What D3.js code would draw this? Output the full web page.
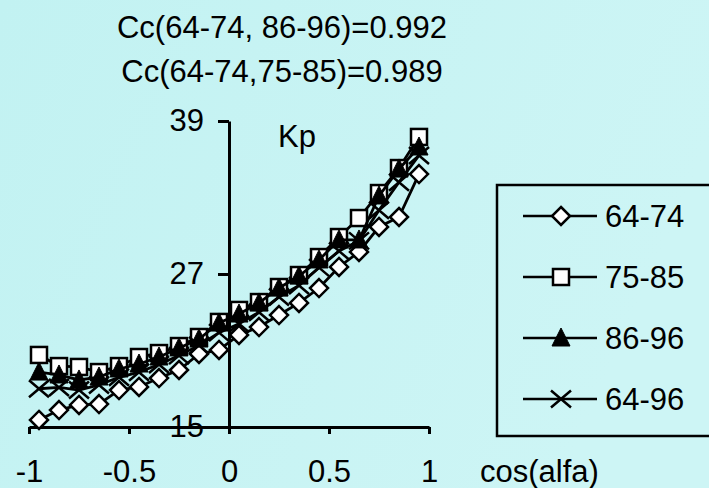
<!DOCTYPE html>
<html><head><meta charset="utf-8">
<script src="https://cdn.jsdelivr.net/npm/d3@7"></script>
<style>html,body{margin:0;padding:0;overflow:hidden;}svg{display:block;}</style>
</head><body>
<svg id="c" width="709" height="488"></svg>
<script>
const cosAlfa = [-0.95,-0.85,-0.75,-0.65,-0.55,-0.45,-0.35,-0.25,-0.15,-0.05,0.05,0.15,0.25,0.35,0.45,0.55,0.65,0.75,0.85,0.95];
const s6474 = [15.55,16.33,16.73,16.8,17.9,18.14,18.84,19.47,20.73,21.04,22.22,22.84,23.78,24.73,25.9,27.55,28.73,30.69,31.47,34.84];
const s7585 = [20.65,19.78,19.71,19.31,19.78,20.49,20.8,21.35,22.06,23.24,24.18,24.8,25.98,26.92,28.33,29.9,31.39,33.35,35.31,37.75];
const s8696 = [19.31,19.08,18.69,18.92,19.55,19.94,20.49,21.2,21.9,23.16,23.86,24.73,25.9,26.84,28.1,29.67,29.67,33.12,35.24,36.96];
const s6496 = [18.0,18.1,17.9,18.3,18.9,19.3,19.9,20.6,21.4,22.4,23.1,24.0,25.2,26.1,27.5,28.8,29.6,32.0,34.2,36.3];
const seriesNames = ["64-74","75-85","86-96","64-96"];
const xTicks = [-1,-0.5,0,0.5,1];
const yTicks = [15,27,39];
const titleLines = ["Cc(64-74, 86-96)=0.992","Cc(64-74,75-85)=0.989"];

const FONT = "'Liberation Sans', Arial, sans-serif";
const FS = 31;
const svg = d3.select("#c");
const defs = svg.append("defs");
const g = defs.append("linearGradient").attr("id","bg").attr("x1","0").attr("y1","0").attr("x2","1").attr("y2","0.3");
g.append("stop").attr("offset","0").attr("stop-color","#c2f2f2");
g.append("stop").attr("offset","1").attr("stop-color","#cdf5f5");
svg.append("rect").attr("width",709).attr("height",488).attr("fill","url(#bg)");

const x = d3.scaleLinear().domain([-1,1]).range([29,429]);
const y = d3.scaleLinear().domain([15,39]).range([427,121]);

// titles
svg.selectAll("text.title").data(titleLines).join("text").attr("class","title")
  .attr("x",282).attr("y",(d,i)=>38+i*44).attr("text-anchor","middle")
  .attr("font-family",FONT).attr("font-size",FS).attr("fill","#000").text(d=>d);

// axes
const xAxis = svg.append("g").attr("transform","translate(0,"+y(15)+")")
  .call(d3.axisBottom(x).tickValues(xTicks).tickSize(7).tickSizeOuter(0).tickFormat(d=>String(d)));
xAxis.select(".domain").attr("stroke","#000").attr("stroke-width",3);
xAxis.selectAll(".tick line").attr("stroke","#000").attr("stroke-width",3);
xAxis.selectAll(".tick text").attr("y",55).attr("dy",0).attr("font-family",FONT).attr("font-size",FS).attr("fill","#000");

const yAxis = svg.append("g").attr("transform","translate("+x(0)+",0)")
  .call(d3.axisLeft(y).tickValues(yTicks).tickSize(11).tickSizeOuter(0).tickPadding(14).tickFormat(d=>String(d)));
yAxis.select(".domain").attr("stroke","#000").attr("stroke-width",3);
yAxis.selectAll(".tick line").attr("stroke","#000").attr("stroke-width",3);
yAxis.selectAll(".tick text").attr("font-family",FONT).attr("font-size",FS).attr("fill","#000");

svg.append("text").attr("x",278).attr("y",147).attr("font-family",FONT).attr("font-size",FS).text("Kp");
svg.append("text").attr("x",480).attr("y",482).attr("font-family",FONT).attr("font-size",FS).text("cos(alfa)");

// markers
function drawMarker(sel, type){
  if(type==="diamond"){
    sel.append("path").attr("d","M0,-9L9,0L0,9L-9,0Z").attr("fill","#fff").attr("stroke","#000").attr("stroke-width",2.5);
  } else if(type==="square"){
    sel.append("rect").attr("x",-8).attr("y",-8).attr("width",16).attr("height",16).attr("fill","#fff").attr("stroke","#000").attr("stroke-width",2.5);
  } else if(type==="triangle"){
    sel.append("path").attr("d","M0,-10L9,8L-9,8Z").attr("fill","#000").attr("stroke","#000").attr("stroke-width",1);
  } else {
    sel.append("path").attr("d","M-10,-8.5L10,8.5M-10,8.5L10,-8.5").attr("fill","none").attr("stroke","#000").attr("stroke-width",2.5);
  }
}
const allSeries = [s6474,s7585,s8696,s6496];
const types = ["diamond","square","triangle","x"];
const line = d3.line().x(d=>x(d[0])).y(d=>y(d[1]));
allSeries.forEach((vals,si)=>{
  const pts = cosAlfa.map((c,i)=>[c,vals[i]]);
  svg.append("path").datum(pts).attr("d",line).attr("fill","none").attr("stroke","#000").attr("stroke-width",2.8);
  svg.append("g").selectAll("g").data(pts).join("g")
    .attr("transform",d=>"translate("+x(d[0])+","+y(d[1])+")")
    .each(function(){ drawMarker(d3.select(this), types[si]); });
});

// legend
svg.append("rect").attr("x",497).attr("y",185).attr("width",240).attr("height",251)
  .attr("fill","none").attr("stroke","#000").attr("stroke-width",2.5);
const lg = svg.append("g").selectAll("g").data(seriesNames).join("g")
  .attr("transform",(d,i)=>"translate(0,"+(216+i*61)+")");
lg.append("line").attr("x1",523).attr("x2",597).attr("y1",0).attr("y2",0).attr("stroke","#000").attr("stroke-width",2.5);
lg.append("g").attr("transform","translate(561,0)").each(function(d,i){ drawMarker(d3.select(this), types[i]); });
lg.append("text").attr("x",605).attr("y",11).attr("font-family",FONT).attr("font-size",FS).attr("fill","#000").text(d=>d);
</script>
</body></html>
